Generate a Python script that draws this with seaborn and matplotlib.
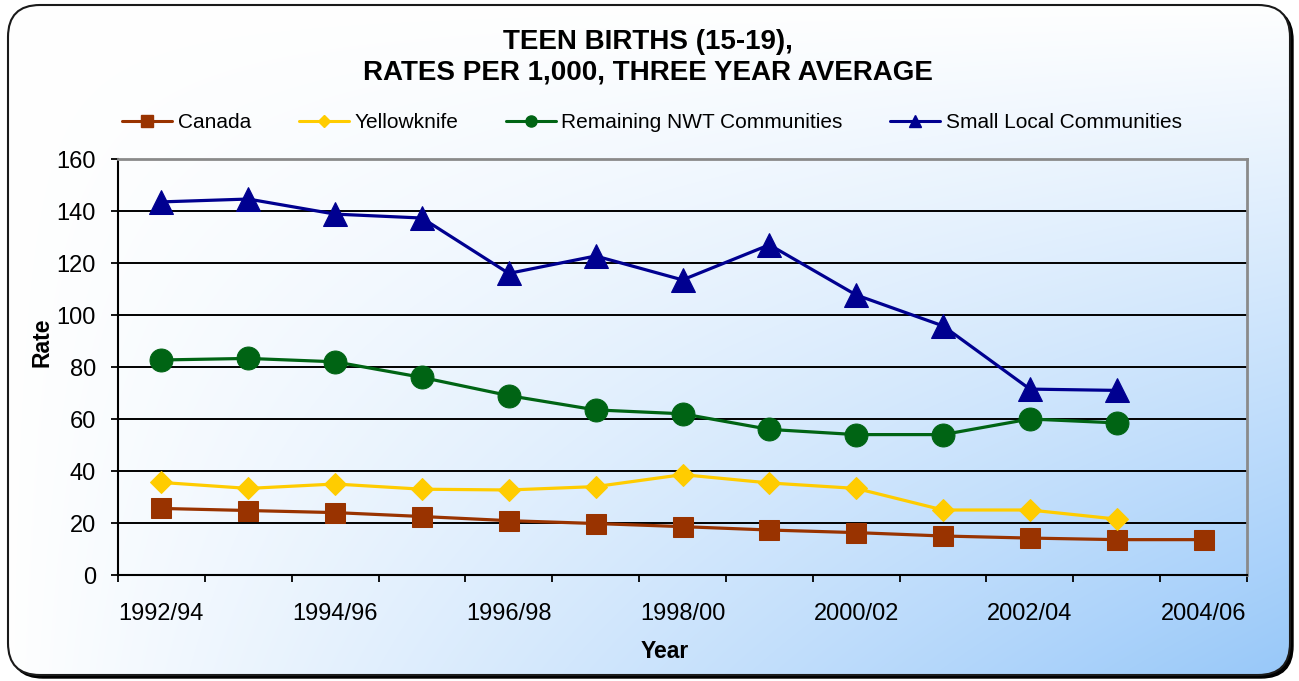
import matplotlib
matplotlib.use("Agg")
import matplotlib.pyplot as plt
from matplotlib.lines import Line2D
from matplotlib.patches import FancyBboxPatch
import numpy as np
import pandas as pd
import seaborn as sns


PERIODS = ["1992/94", "1993/95", "1994/96", "1995/97", "1996/98", "1997/99", "1998/00",
           "1999/01", "2000/02", "2001/03", "2002/04", "2003/05", "2004/06"]
CANADA = [25.6, 24.8, 24.0, 22.5, 20.9, 19.8, 18.6, 17.3, 16.3, 15.0, 14.2, 13.6, 13.6]
YELLOWKNIFE = [35.6, 33.3, 35.0, 33.0, 32.7, 34.0, 38.6, 35.4, 33.3, 25.0, 25.0, 21.5, np.nan]
REMAINING_NWT = [82.7, 83.3, 82.0, 76.0, 69.0, 63.5, 62.0, 56.0, 54.0, 54.0, 60.0, 58.5, np.nan]
SMALL_LOCAL = [143.5, 144.6, 138.8, 137.3, 116.0, 122.7, 113.5, 127.0, 107.7, 95.8, 71.5, 71.0, np.nan]

SERIES = ["Canada", "Yellowknife", "Remaining NWT Communities", "Small Local Communities"]
COLORS = ["#993300", "#ffcc00", "#006414", "#000090"]
MARKERS = ["s", "D", "o", "^"]
MARKER_SIZES = [15, 11.5, 16.5, 17.5]

W, H = 1299, 681


def build_frame():
    frames = []
    for name, values in zip(SERIES, [CANADA, YELLOWKNIFE, REMAINING_NWT, SMALL_LOCAL]):
        frames.append(pd.DataFrame({"idx": range(len(PERIODS)), "rate": values, "series": name}))
    return pd.concat(frames, ignore_index=True).dropna()


def draw_background(fig):
    bg = fig.add_axes([0, 0, 1, 1], zorder=-10)
    bg.set_xlim(0, W)
    bg.set_ylim(H, 0)
    bg.axis("off")
    style = "round,pad=0,rounding_size=32"
    shadow = FancyBboxPatch((11, 8), 1282, 670, boxstyle=style, fc="black", ec="black",
                            lw=1, zorder=1)
    bg.add_patch(shadow)
    box = FancyBboxPatch((8, 5), 1282, 670, boxstyle=style, fc="white", ec="none", zorder=2)
    bg.add_patch(box)
    # diagonal wash: white at top/left, light blue towards the bottom-right corner
    xx, yy = np.meshgrid(np.linspace(0, 1, 400), np.linspace(0, 1, 220))
    t = np.clip(xx * yy, 0, 1)[..., None]
    start = np.array([1.0, 1.0, 1.0])
    end = np.array([0x96, 0xc7, 0xf9]) / 255
    img = start * (1 - t) + end * t
    im = bg.imshow(img, extent=(0, W, H, 0), aspect="auto", interpolation="bilinear", zorder=3)
    im.set_clip_path(box)
    edge = FancyBboxPatch((8, 5), 1282, 670, boxstyle=style, fc="none", ec="#1a1a1a",
                          lw=1.5, zorder=4)
    bg.add_patch(edge)


def main():
    sns.set_style("ticks")
    plt.rcParams["font.family"] = ["Liberation Sans", "DejaVu Sans"]
    plt.rcParams.update({"text.color": "black", "xtick.color": "black",
                         "ytick.color": "black", "axes.labelcolor": "black"})

    df = build_frame()
    fig = plt.figure(figsize=(W / 100, H / 100), dpi=100)
    draw_background(fig)

    ax = fig.add_axes([118 / W, 1 - 575 / H, (1247 - 118) / W, (575 - 159) / H])
    ax.patch.set_alpha(0)

    for name, color, marker, ms in zip(SERIES, COLORS, MARKERS, MARKER_SIZES):
        sub = df[df["series"] == name]
        sns.lineplot(data=sub, x="idx", y="rate", color=color, marker=marker,
                     markersize=ms, markeredgecolor=color, linewidth=2.3,
                     legend=False, ax=ax, zorder=3)

    ax.set_xlim(-0.5, len(PERIODS) - 0.5)
    ax.set_ylim(0, 160)
    ax.set_yticks(range(0, 161, 20))
    ax.set_xticks(range(0, len(PERIODS), 2))
    ax.set_xticklabels(PERIODS[::2])
    ax.set_xticks(np.arange(-0.5, len(PERIODS), 1), minor=True)
    ax.tick_params(axis="x", which="major", length=0, pad=20, labelsize=17)
    ax.tick_params(axis="x", which="minor", length=5, width=1.3, direction="out", color="black")
    ax.tick_params(axis="y", length=5, width=1.3, pad=11, labelsize=17, color="black")
    ax.set_xlabel("")
    ax.set_ylabel("")
    ax.yaxis.grid(True, color="black", linewidth=1.4)
    ax.set_axisbelow(True)
    for side in ["left", "bottom"]:
        ax.spines[side].set_color("black")
        ax.spines[side].set_linewidth(1.5)
    for side in ["top", "right"]:
        ax.spines[side].set_color("#8a8a8a")
        ax.spines[side].set_linewidth(2)

    fig.text(648 / W, 1 - 42 / H, "TEEN BIRTHS (15-19),", ha="center", va="center",
             fontsize=20, fontweight="bold")
    fig.text(648 / W, 1 - 73 / H, "RATES PER 1,000, THREE YEAR AVERAGE", ha="center",
             va="center", fontsize=20, fontweight="bold")
    fig.text(42 / W, 1 - 342 / H, "Rate", rotation=90, ha="center", va="center",
             fontsize=16.5, fontweight="bold")
    fig.text(665 / W, 1 - 651 / H, "Year", ha="center", va="center",
             fontsize=16.5, fontweight="bold")

    handles = [Line2D([0], [0], color=c, marker=m, markersize=s, lw=2.2,
                      markeredgecolor=c)
               for c, m, s in zip(COLORS, MARKERS, [8, 6.5, 8, 8.5])]
    fig.legend(handles, SERIES, loc="center", bbox_to_anchor=(652 / W, 1 - 123 / H),
               ncol=4, frameon=False, fontsize=15, handlelength=2.4,
               handletextpad=0.25, columnspacing=2.3)

    fig.savefig("out.png", dpi=100)
    plt.close(fig)


if __name__ == "__main__":
    main()
